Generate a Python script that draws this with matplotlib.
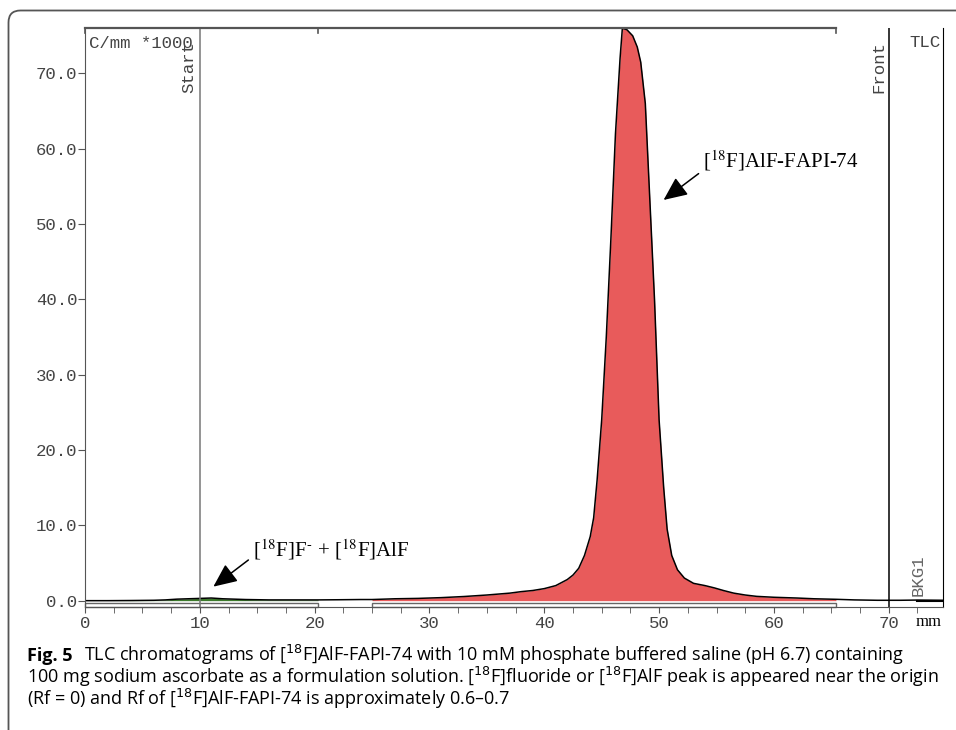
import matplotlib
matplotlib.use("Agg")  # non-GUI backend

import numpy as np
import matplotlib.pyplot as plt
from matplotlib.patches import FancyBboxPatch, Rectangle
from matplotlib.transforms import IdentityTransform

# radioactivity scan, counts per mm (x1000) vs distance (mm)
x_mm = [0, 2, 4, 6, 7, 8, 9, 10, 11, 12, 13, 14, 16, 18, 20.3, 22, 24,
        25, 27, 29, 31, 33, 35, 37, 38, 39, 40, 41, 42, 42.5, 43, 43.5,
        44, 44.3, 44.6, 45.0, 45.4, 45.8, 46.2, 46.6, 46.8, 47.2, 47.7,
        48.1, 48.4, 48.8, 49.2, 49.6, 50.0, 50.4, 50.7, 51.1, 51.6, 52.2,
        53.0, 54.0, 54.8, 55.6, 56.5, 57.5, 58.5, 60, 62, 63.5, 65.4,
        67, 69, 71, 72.5, 74.7]
counts = [0.0, 0.0, 0.02, 0.05, 0.1, 0.2, 0.25, 0.3, 0.35, 0.25, 0.2, 0.15,
          0.1, 0.1, 0.1, 0.12, 0.15,
          0.15, 0.25, 0.3, 0.4, 0.55, 0.75, 1.0, 1.2, 1.35, 1.6, 2.0, 2.8,
          3.4, 4.3, 6.0, 8.5, 11, 16, 24, 35, 48, 62, 72, 76, 75.8, 75.0,
          73.5, 71.5, 66, 53, 40, 24, 15, 9.5, 6.0, 4.1, 3.0, 2.3, 2.0,
          1.7, 1.35, 1.0, 0.75, 0.57, 0.45, 0.35, 0.25, 0.18,
          0.1, 0.05, 0.05, 0.08, 0.05]

region_free = (0, 20.3)      # [18F]F- + [18F]AlF
region_product = (25, 65.4)  # [18F]AlF-FAPI-74
start_mm = 10
front_mm = 70
bkg_region = (72.5, 74.7)

yticks = [0, 10, 20, 30, 40, 50, 60, 70]
xticks = [0, 10, 20, 30, 40, 50, 60, 70]

mono = "Liberation Mono"
serif = "Liberation Serif"
sans = "Open Sans"

x = np.array(x_mm)
y = np.array(counts)

fig = plt.figure(figsize=(9.56, 7.3), dpi=100)
ax = fig.add_axes([0.0889, 0.1681, 0.8972, 0.7932])

m1 = (x >= region_free[0]) & (x <= region_free[1])
m2 = (x >= region_product[0]) & (x <= region_product[1])
ax.fill_between(x, 0, y, where=m1, color="#3d7a2c", lw=0)
ax.fill_between(x, 0, y, where=m2, color="#e85b5b", lw=0)
ax.plot(x, y, color="black", lw=1.1)
ax.plot(bkg_region, [0.02, 0.02], color="black", lw=1.5)

# integration region bars along the bottom
for a, b in [region_free, region_product]:
    ax.add_patch(Rectangle((a, -0.85), b - a, 0.55, facecolor="white",
                           edgecolor="#666666", lw=1, clip_on=False))

# start / front lines
ax.axvline(start_mm, color="#777777", lw=1.1)
ax.axvline(front_mm, color="black", lw=1.1)

ax.set_xlim(0, 74.7)
ax.set_ylim(-0.88, 76)

# top bracket instead of a top spine
ax.spines["top"].set_visible(False)
ax.plot([0, region_product[1]], [76, 76], color="#555555", lw=1.6,
        clip_on=False)
for xv in [0, region_free[1], region_product[1]]:
    ax.plot([xv, xv], [75.4, 76], color="#555555", lw=1.2, clip_on=False)

for s in ["left", "bottom"]:
    ax.spines[s].set_color("#555555")
ax.spines["right"].set_color("black")

ax.set_yticks(yticks)
ax.set_yticklabels([f"{v:.1f}" for v in yticks])
ax.set_xticks(xticks)
ax.set_xticks(np.arange(0, 75, 2.5), minor=True)
ax.tick_params(axis="y", length=5, pad=0.5, labelsize=12.5, color="#555555")
ax.tick_params(axis="x", which="both", length=4.5, pad=2, labelsize=12.5,
               color="#555555")
for lab in ax.get_xticklabels() + ax.get_yticklabels():
    lab.set_family(mono)
    lab.set_color("#444444")

ax.text(0.35, 74.0, "C/mm *1000", family=mono, fontsize=12.5, va="center",
        color="#444444")
ax.text(74.55, 74.1, "TLC", family=mono, fontsize=12.5, va="center",
        ha="right", color="#444444")
ax.text(9.06, 67.4, "Start", family=mono, fontsize=12.5, rotation=90,
        ha="center", va="bottom", color="#444444")
ax.text(69.1, 67.4, "Front", family=mono, fontsize=12.5, rotation=90,
        ha="center", va="bottom", color="#444444")
ax.text(72.6, 0.6, "BKG1", family=mono, fontsize=12.5, rotation=90,
        ha="center", va="bottom", color="#666666")
ax.annotate("mm", xy=(73.5, -0.025), xycoords=("data", "axes fraction"),
            ha="center", va="center", family=serif, fontsize=12,
            annotation_clip=False)

arrow = dict(arrowstyle="-|>,head_length=1.45,head_width=0.65",
             color="black", lw=1.1, shrinkA=0, shrinkB=0)
ax.annotate("", xy=(50.39, 53.2), xytext=(53.44, 56.7), arrowprops=arrow)
ax.text(53.85, 57.55, r"[$^{18}$F]AlF-FAPI-74", family=serif, fontsize=15,
        math_fontfamily="stix", va="baseline")
ax.annotate("", xy=(11.18, 1.86), xytext=(14.23, 5.4), arrowprops=arrow)
ax.text(14.64, 5.84, r"[$^{18}$F]F$^{\text{-}}$ + [$^{18}$F]AlF",
        family=serif, fontsize=15, math_fontfamily="stix", va="baseline")

# rounded outer frame
frame = FancyBboxPatch((8.5, -40), 1000, 730 - 10.5 + 40,
                       boxstyle="round,pad=0,rounding_size=12",
                       transform=IdentityTransform(), facecolor="none",
                       edgecolor="#555555", lw=1.3)
fig.add_artist(frame)

# caption
cap_size = 13.0
H = 730.0
t_fig = fig.text(27 / 956, 1 - 661 / H, "Fig. 5", family=sans,
                 weight="bold", fontsize=cap_size, va="baseline")
renderer = fig.canvas.get_renderer()
bb = t_fig.get_window_extent(renderer)
fig.text((bb.x1 + 12) / 956, 1 - 661 / H,
         r"TLC chromatograms of [$^{18}$F]AlF-FAPI-74 with 10 mM phosphate "
         r"buffered saline (pH 6.7) containing",
         family=sans, fontsize=cap_size, va="baseline",
         math_fontfamily="dejavusans")
fig.text(27 / 956, 1 - 683 / H,
         r"100 mg sodium ascorbate as a formulation solution. [$^{18}$F]fluoride "
         r"or [$^{18}$F]AlF peak is appeared near the origin",
         family=sans, fontsize=cap_size, va="baseline",
         math_fontfamily="dejavusans")
fig.text(27 / 956, 1 - 705 / H,
         r"(Rf = 0) and Rf of [$^{18}$F]AlF-FAPI-74 is approximately 0.6–0.7",
         family=sans, fontsize=cap_size, va="baseline",
         math_fontfamily="dejavusans")

fig.savefig("out.png", dpi=100)
plt.close(fig)
